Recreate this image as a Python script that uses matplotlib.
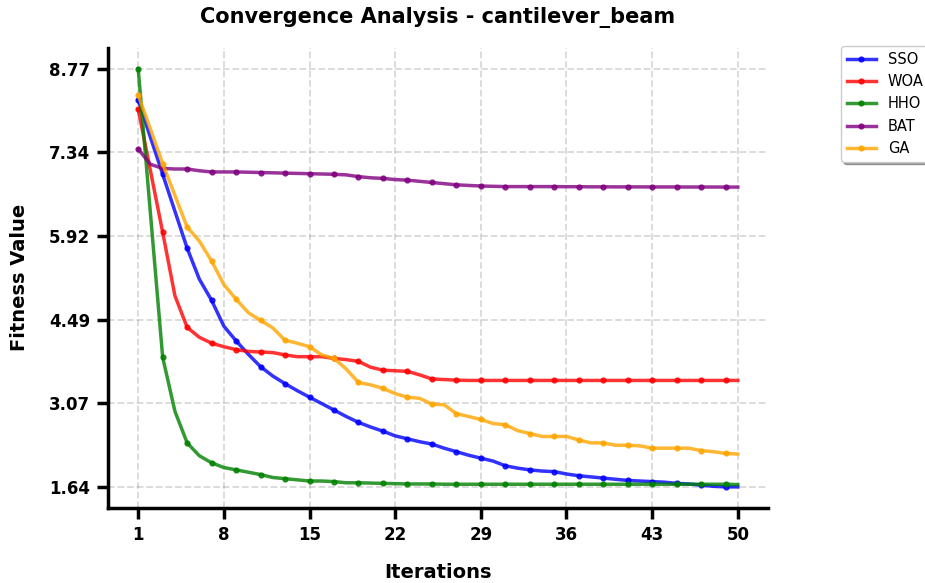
import numpy as np
import matplotlib
matplotlib.use('Agg')
import matplotlib.pyplot as plt

# 反復回数
iterations = np.arange(1, 51)

sso = [8.24, 7.60, 6.97, 6.34, 5.71, 5.18, 4.82, 4.38, 4.13, 3.90,
       3.69, 3.53, 3.40, 3.28, 3.17, 3.06, 2.95, 2.84, 2.74, 2.66,
       2.59, 2.51, 2.46, 2.41, 2.37, 2.30, 2.24, 2.18, 2.13, 2.08,
       2.00, 1.96, 1.93, 1.91, 1.90, 1.86, 1.83, 1.81, 1.79, 1.77,
       1.75, 1.74, 1.73, 1.72, 1.70, 1.69, 1.67, 1.65, 1.64, 1.64]
woa = [8.08, 7.03, 5.98, 4.90, 4.36, 4.19, 4.09, 4.03, 3.98, 3.95,
       3.94, 3.93, 3.89, 3.86, 3.86, 3.86, 3.83, 3.81, 3.78, 3.68,
       3.63, 3.62, 3.61, 3.55, 3.48, 3.47, 3.46, 3.455, 3.455, 3.455,
       3.455, 3.455, 3.455, 3.455, 3.455, 3.455, 3.455, 3.455, 3.455, 3.455,
       3.455, 3.455, 3.455, 3.455, 3.455, 3.455, 3.455, 3.455, 3.455, 3.455]
hho = [8.77, 6.30, 3.85, 2.93, 2.39, 2.17, 2.05, 1.97, 1.93, 1.89,
       1.85, 1.80, 1.78, 1.76, 1.74, 1.74, 1.73, 1.71, 1.71, 1.705,
       1.70, 1.695, 1.69, 1.69, 1.69, 1.685, 1.685, 1.685, 1.685, 1.685,
       1.685, 1.685, 1.685, 1.685, 1.685, 1.685, 1.685, 1.685, 1.685, 1.685,
       1.685, 1.685, 1.685, 1.685, 1.685, 1.685, 1.685, 1.685, 1.685, 1.68]
bat = [7.40, 7.14, 7.07, 7.06, 7.06, 7.03, 7.01, 7.01, 7.01, 7.005,
       7.00, 6.995, 6.99, 6.985, 6.98, 6.975, 6.97, 6.96, 6.93, 6.91,
       6.90, 6.88, 6.87, 6.85, 6.83, 6.81, 6.79, 6.78, 6.77, 6.765,
       6.76, 6.76, 6.76, 6.76, 6.76, 6.758, 6.758, 6.756, 6.756, 6.755,
       6.755, 6.755, 6.754, 6.754, 6.754, 6.753, 6.753, 6.753, 6.752, 6.752]
ga = [8.32, 7.74, 7.15, 6.61, 6.07, 5.83, 5.49, 5.09, 4.84, 4.61,
      4.48, 4.35, 4.14, 4.09, 4.03, 3.89, 3.83, 3.65, 3.42, 3.38,
      3.32, 3.23, 3.17, 3.15, 3.05, 3.04, 2.89, 2.84, 2.79, 2.72,
      2.70, 2.60, 2.55, 2.50, 2.50, 2.50, 2.44, 2.39, 2.39, 2.35,
      2.35, 2.34, 2.30, 2.30, 2.30, 2.30, 2.26, 2.24, 2.21, 2.20]

names = ['SSO', 'WOA', 'HHO', 'BAT', 'GA']
colors = ['blue', 'red', 'green', 'purple', 'orange']
series = [sso, woa, hho, bat, ga]

fig = plt.figure(figsize=(9.25, 5.83), dpi=100)
ax = fig.add_axes([0.117, 0.129, 0.713, 0.789])

for name, col, vals in zip(names, colors, series):
    ax.plot(iterations, vals, color=col, lw=2.5, alpha=0.8, label=name,
            marker='o', markersize=3.5, markevery=2)

all_vals = np.concatenate([np.array(s) for s in series])
ax.set_yticks(np.linspace(all_vals.min(), all_vals.max(), 6))
ax.yaxis.set_major_formatter(matplotlib.ticker.FormatStrFormatter('%.2f'))
ax.set_xticks(np.arange(1, 51, 7))

ax.grid(True, linestyle='--', color='gray', alpha=0.3, lw=1.3)
for s in ['top', 'right']:
    ax.spines[s].set_visible(False)
for s in ['left', 'bottom']:
    ax.spines[s].set_linewidth(2.5)
ax.tick_params(width=2.5, length=8, labelsize=12, pad=5)
for lbl in ax.get_xticklabels() + ax.get_yticklabels():
    lbl.set_fontweight('bold')

ax.set_title('Convergence Analysis - cantilever_beam', fontsize=15, fontweight='bold', pad=18)
ax.set_xlabel('Iterations', fontsize=14, fontweight='bold', labelpad=14)
ax.set_ylabel('Fitness Value', fontsize=14, fontweight='bold', labelpad=14)

ax.legend(loc='upper left', bbox_to_anchor=(1.1, 1.02), fontsize=10.5, shadow=True, frameon=True)

plt.savefig('out.png', dpi=100)
